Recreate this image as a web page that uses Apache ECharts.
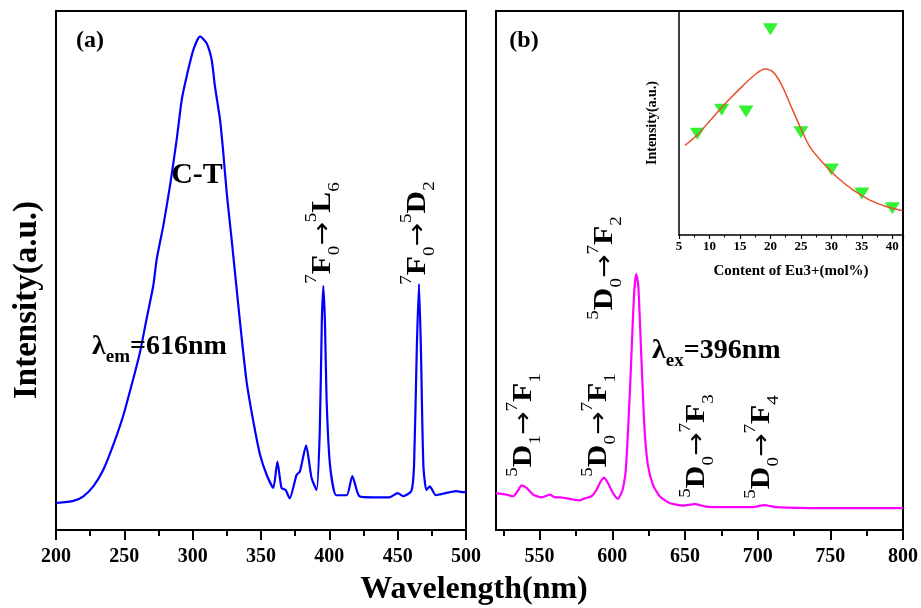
<!DOCTYPE html>
<html>
<head>
<meta charset="utf-8">
<script src="https://cdn.jsdelivr.net/npm/echarts@6/dist/echarts.min.js"></script>
<style>
  html, body { margin: 0; padding: 0; background: #fff; }
  #container { width: 921px; height: 608px; }
</style>
</head>
<body>
<div id="container"></div>
<script>
var dom = document.getElementById("container");
var myChart = echarts.init(dom);

// (a) excitation spectrum, lambda_em = 616 nm
var excWave = [200, 212.7, 220, 227.3, 234.6, 241.9, 249.3, 256.6, 261.5, 266.3, 271.2, 273.7, 278.5, 283.4, 288.3, 292, 295.6, 300.5, 305.4, 310.2, 313.9, 316.3, 320, 322.4, 324.9, 328.5, 332.2, 335.9, 339.5, 344.4, 349.3, 354.2, 359, 362, 365, 368, 371, 376, 378.5, 383, 387, 390.7, 393, 394.5, 395.6, 396.8, 398, 400.5, 405, 412.7, 416.8, 422, 432, 444, 450, 454, 460, 462, 464, 465.6, 467, 468.8, 471, 473.5, 478, 485, 492.7, 498.2, 500];
var excInt = [5.2, 5.6, 6.5, 8.4, 11.6, 16.4, 22.1, 29.2, 34.3, 40.7, 47.1, 52.2, 58.6, 66.3, 75.2, 82.9, 87.4, 92.5, 95.1, 93.8, 90.6, 85.5, 79.1, 72.7, 65.0, 56.0, 46.4, 36.9, 28.5, 20.9, 14.5, 10.6, 8.1, 13.2, 8.1, 7.7, 6.1, 10.6, 11.3, 16.3, 10.0, 7.7, 19.0, 40, 47, 40, 25, 12.5, 6.7, 6.7, 10.4, 6.5, 6.3, 6.3, 7.1, 6.5, 7.5, 12.5, 35, 47.4, 35, 12.5, 7.7, 8.4, 6.7, 7.1, 7.5, 7.3, 7.3];

// (b) emission spectrum, lambda_ex = 396 nm
var emWave = [520, 527.3, 531.9, 535.3, 537.6, 541, 545.6, 551.4, 557.1, 560.5, 563.9, 570.8, 577.7, 581.1, 585.7, 589.1, 591.9, 594.3, 597.1, 600.5, 603.9, 606.2, 607.4, 609.2, 610.8, 612.4, 613.8, 615.2, 616.5, 617.9, 619.3, 620.7, 622.3, 624.5, 628, 632.6, 639.4, 648.6, 656.6, 664.6, 676, 696.6, 704.6, 712.7, 744.6, 800];
var emInt = [7.1, 6.8, 6.5, 7.7, 8.6, 8.1, 6.8, 6.3, 6.8, 6.3, 6.3, 6.0, 5.7, 6.1, 6.5, 7.7, 9.3, 10.1, 9.0, 7.1, 6.0, 7.1, 8.1, 11.3, 18.9, 28.5, 38.1, 46.4, 49.3, 47.1, 38.1, 28.5, 18.9, 12.5, 8.7, 6.5, 5.2, 4.7, 5.0, 4.5, 4.4, 4.4, 4.8, 4.4, 4.2, 4.2];

// inset: intensity vs Eu3+ content
var euContent = [8, 12, 16, 20, 25, 30, 35, 40];
var euInt = [45.2, 55.9, 55.1, 91.9, 45.9, 29.2, 18.5, 11.9];
var fitContent = [6.0, 7.9, 10.1, 12.8, 15.5, 17.7, 19.1, 20.5, 21.9, 23.2, 24.9, 26.5, 28.7, 30.9, 33.6, 36.3, 39.1, 41.7];
var fitInt = [40.0, 44.4, 51.1, 59.3, 66.7, 72.1, 74.1, 72.6, 66.7, 58.6, 48.1, 39.2, 31.9, 25.9, 20.0, 15.6, 12.6, 10.8];

// tick values for panel (b)
var bMajor = [550, 600, 650, 700, 750, 800];
var bMinor = [525, 575, 625, 675, 725, 775];

var serif = '"Liberation Serif", "Times New Roman", serif';

function zip(xs, ys) {
  return xs.map(function (x, i) { return [x, ys[i]]; });
}

// rotated transition labels like 7F0 -> 5L6
var transRich = {
  m: { fontSize: 28, fontWeight: 'bold', fontFamily: serif, lineHeight: 40, fill: '#000' },
  ar: { fontSize: 25, fontFamily: '"DejaVu Sans", sans-serif', lineHeight: 40, fill: '#000' },
  sp: { fontSize: 17, fontFamily: serif, lineHeight: 17, verticalAlign: 'top', fill: '#000' },
  sb: { fontSize: 17, fontFamily: serif, lineHeight: 17, verticalAlign: 'bottom', fill: '#000' }
};
function trans(a, b, c, d, e, f) {
  return '{sp|' + a + '}{m|' + b + '}{sb|' + c + '}{ar|→}{sp|' + d + '}{m|' + e + '}{sb|' + f + '}';
}
function transLabel(x, y, txt) {
  return {
    type: 'text', x: x, y: y, rotation: Math.PI / 2, scaleX: 1.12, z: 100,
    style: { text: txt, rich: transRich, align: 'center', verticalAlign: 'middle', fill: '#000' }
  };
}
var lamRich = {
  l: { fontSize: 28, fontWeight: 'bold', fontFamily: serif, lineHeight: 40, fill: '#000' },
  s: { fontSize: 19, fontWeight: 'bold', fontFamily: serif, lineHeight: 19, verticalAlign: 'bottom', fill: '#000' }
};

var boldText = { fontFamily: serif, fontWeight: 'bold', color: '#000' };

option = {
  animation: false,
  backgroundColor: '#fff',
  grid: [
    { left: 56, top: 11, width: 410, height: 519, show: true, borderColor: '#000', borderWidth: 2 },
    { left: 496, top: 11, width: 408, height: 519, show: true, borderColor: '#000', borderWidth: 2 },
    { left: 679, top: 11, width: 224, height: 224 }
  ],
  xAxis: [{
    gridIndex: 0, type: 'value', min: 200, max: 500, interval: 50,
    axisLine: { lineStyle: { color: '#000', width: 2 } },
    axisTick: { length: 10, lineStyle: { color: '#000', width: 2 } },
    minorTick: { show: true, splitNumber: 2, length: 6, lineStyle: { color: '#000', width: 2 } },
    axisLabel: Object.assign({ fontSize: 20, margin: 17 }, boldText),
    splitLine: { show: false }
  }, {
    gridIndex: 1, type: 'value', min: 520, max: 800, position: 'bottom',
    axisLine: { lineStyle: { color: '#000', width: 2 } },
    axisTick: { length: 10, customValues: bMajor, lineStyle: { color: '#000', width: 2 } },
    axisLabel: Object.assign({ fontSize: 20, margin: 17, customValues: bMajor }, boldText),
    splitLine: { show: false }
  }, {
    gridIndex: 1, type: 'value', min: 520, max: 800, position: 'bottom',
    axisLine: { show: false },
    axisTick: { length: 6, customValues: bMinor, lineStyle: { color: '#000', width: 2 } },
    axisLabel: { show: false },
    splitLine: { show: false }
  }, {
    gridIndex: 2, type: 'value', min: 5, max: 41.75, interval: 5,
    axisLine: { lineStyle: { color: '#000', width: 1.5 } },
    axisTick: { length: 4, lineStyle: { color: '#000', width: 1.2 } },
    minorTick: { show: true, splitNumber: 2, length: 2.5, lineStyle: { color: '#000', width: 1 } },
    axisLabel: Object.assign({ fontSize: 13, margin: 5, showMaxLabel: false }, boldText),
    splitLine: { show: false },
    name: 'Content of Eu3+(mol%)', nameLocation: 'middle', nameGap: 29,
    nameTextStyle: Object.assign({ fontSize: 15 }, boldText)
  }],
  yAxis: [0, 1].map(function (g) {
    return {
      gridIndex: g, type: 'value', min: 0, max: 100,
      axisLine: { show: false }, axisTick: { show: false },
      axisLabel: { show: false }, splitLine: { show: false }
    };
  }).concat([{
    gridIndex: 2, type: 'value', min: 0, max: 100,
    axisLine: { show: true, lineStyle: { color: '#000', width: 1.5 } },
    axisTick: { show: false }, axisLabel: { show: false }, splitLine: { show: false },
    name: 'Intensity(a.u.)', nameLocation: 'middle', nameRotate: 90, nameGap: 20,
    nameTextStyle: Object.assign({ fontSize: 14 }, boldText)
  }]),
  series: [{
    type: 'line', xAxisIndex: 0, yAxisIndex: 0,
    data: zip(excWave, excInt), showSymbol: false, smooth: 0.2,
    lineStyle: { color: '#0000ff', width: 2.2 }
  }, {
    type: 'line', xAxisIndex: 1, yAxisIndex: 1,
    data: zip(emWave, emInt), showSymbol: false, smooth: 0.2,
    lineStyle: { color: '#ff00ff', width: 2.2 }
  }, {
    type: 'line', xAxisIndex: 3, yAxisIndex: 2,
    data: zip(fitContent, fitInt), showSymbol: false, smooth: 0.3,
    lineStyle: { color: '#e8502c', width: 1.5 }
  }, {
    type: 'scatter', xAxisIndex: 3, yAxisIndex: 2,
    data: zip(euContent, euInt),
    symbol: 'triangle', symbolRotate: 180, symbolSize: [15, 12],
    itemStyle: { color: '#00ee00' }
  }],
  graphic: [
    { type: 'text', x: 90, y: 41, style: { text: '(a)', font: 'bold 24px ' + serif, fill: '#000', align: 'center', verticalAlign: 'middle' } },
    { type: 'text', x: 524, y: 41, style: { text: '(b)', font: 'bold 24px ' + serif, fill: '#000', align: 'center', verticalAlign: 'middle' } },
    { type: 'text', x: 197, y: 175, style: { text: 'C-T', font: 'bold 30px ' + serif, fill: '#000', align: 'center', verticalAlign: 'middle' } },
    { type: 'text', x: 92, y: 347, z: 100, style: { text: '{l|λ}{s|em}{l|=616nm}', rich: lamRich, align: 'left', verticalAlign: 'middle' } },
    { type: 'text', x: 652, y: 351, z: 100, style: { text: '{l|λ}{s|ex}{l|=396nm}', rich: lamRich, align: 'left', verticalAlign: 'middle' } },
    transLabel(323, 233, trans('7', 'F', '0', '5', 'L', '6')),
    transLabel(418, 233, trans('7', 'F', '0', '5', 'D', '2')),
    transLabel(524, 425, trans('5', 'D', '1', '7', 'F', '1')),
    transLabel(599, 425, trans('5', 'D', '0', '7', 'F', '1')),
    transLabel(605, 268, trans('5', 'D', '0', '7', 'F', '2')),
    transLabel(697, 446, trans('5', 'D', '0', '7', 'F', '3')),
    transLabel(762, 447, trans('5', 'D', '0', '7', 'F', '4')),
    { type: 'text', x: 474, y: 590, style: { text: 'Wavelength(nm)', font: 'bold 32px ' + serif, fill: '#000', align: 'center', verticalAlign: 'middle' } },
    { type: 'text', x: 27, y: 300, rotation: Math.PI / 2, style: { text: 'Intensity(a.u.)', font: 'bold 33px ' + serif, fill: '#000', align: 'center', verticalAlign: 'middle' } }
  ]
};

if (option && typeof option === "object") {
  myChart.setOption(option, true);
}
</script>
</body>
</html>
